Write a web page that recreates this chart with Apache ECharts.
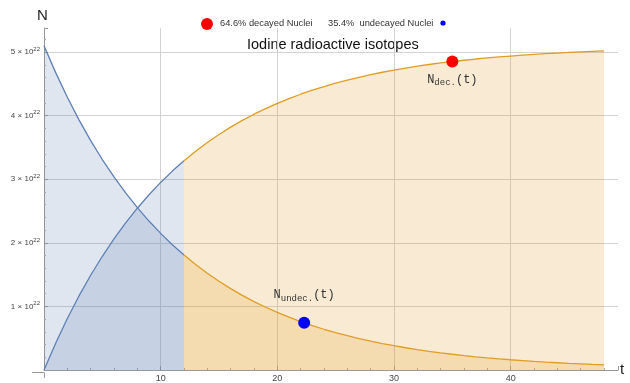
<!DOCTYPE html>
<html>
<head>
<meta charset="utf-8">
<script src="https://cdn.jsdelivr.net/npm/echarts@6/dist/echarts.min.js"></script>
<style>html,body{margin:0;padding:0;background:#fff}#c{width:630px;height:383px}</style>
</head>
<body>
<div id="c"></div>
<script>
// time in days, N in units of 10^22 nuclei
const tValues = [0,1,2,3,4,5,6,7,8,9,10,11,12,13,14,15,16,17,18,19,20,21,22,23,24,25,26,27,28,29,30,31,32,33,34,35,36,37,38,39,40,41,42,43,44,45,46,47,48];
const undecayed = [5.100,4.678,4.290,3.935,3.609,3.311,3.037,2.785,2.555,2.343,2.149,1.971,1.808,1.658,1.521,1.395,1.280,1.174,1.076,0.987,0.906,0.831,0.762,0.699,0.641,0.588,0.539,0.495,0.454,0.416,0.382,0.350,0.321,0.294,0.270,0.248,0.227,0.208,0.191,0.175,0.161,0.148,0.135,0.124,0.114,0.104,0.096,0.088,0.081];
const decayed = [0.000,0.422,0.810,1.165,1.491,1.789,2.063,2.315,2.545,2.757,2.951,3.129,3.292,3.442,3.579,3.705,3.820,3.926,4.024,4.113,4.194,4.269,4.338,4.401,4.459,4.512,4.561,4.605,4.646,4.684,4.718,4.750,4.779,4.806,4.830,4.852,4.873,4.892,4.909,4.925,4.939,4.952,4.965,4.976,4.986,4.996,5.004,5.012,5.019];
const splitT = 12;
const decayedMarker = [35, 4.852];
const undecayedMarker = [22.3, 0.743];
const decayedPct = '64.6%';
const undecayedPct = '35.4%';
const xTickLabels = [10, 20, 30, 40];
const yTickLabels = [1, 2, 3, 4, 5];

const BLUE = '#5E81B5', ORANGE = '#E19C24';
function pairs(vals, from, to) {
  const out = [];
  for (let i = 0; i < tValues.length; i++) {
    if (tValues[i] >= from && tValues[i] <= to) out.push([tValues[i], vals[i]]);
  }
  return out;
}
function lineSeries(vals, from, to, color) {
  return {
    type: 'line', data: pairs(vals, from, to), showSymbol: false, symbol: 'none',
    smooth: false,
    lineStyle: { color: color, width: 1.3 },
    areaStyle: { color: color, opacity: 0.2, origin: 'start' },
    z: 2, silent: true
  };
}
const mono = '"Liberation Mono","DejaVu Sans Mono",monospace';
const richLabel = {
  n: { fontFamily: mono, fontSize: 12, color: '#333' },
  s: { fontFamily: mono, fontSize: 9, color: '#333', padding: [7, 0, 0, 0] }
};

const chart = echarts.init(document.getElementById('c'));
chart.setOption({
  animation: false,
  grid: { left: 44, right: 12, top: 28, bottom: 10.5, containLabel: false },
  xAxis: {
    type: 'value', min: 0, max: 49.2, interval: 10,
    axisLine: { show: true, lineStyle: { color: '#999', width: 1 } },
    axisTick: { show: true, inside: true, length: 4, lineStyle: { color: '#999' } },
    minorTick: { show: true, splitNumber: 5, length: 2, lineStyle: { color: '#aaa' } },
    axisLabel: {
      fontSize: 9, color: '#444', margin: 4, fontFamily: 'Liberation Sans',
      formatter: v => xTickLabels.indexOf(v) >= 0 ? String(v) : ''
    },
    splitLine: { show: true, showMinLine: false, showMaxLine: false, lineStyle: { color: '#d2d2d2' } }
  },
  yAxis: {
    type: 'value', min: 0, max: 5.38, interval: 1,
    axisLine: { show: true, onZero: false, lineStyle: { color: '#999', width: 1 } },
    axisTick: { show: true, inside: true, length: 4, lineStyle: { color: '#999' } },
    minorTick: { show: true, splitNumber: 5, length: 2, lineStyle: { color: '#aaa' } },
    axisLabel: {
      fontSize: 8, color: '#444', margin: 4, fontFamily: 'Liberation Sans',
      formatter: v => yTickLabels.indexOf(v) >= 0 ? v + ' \u00d7 10{sup|22}' : '',
      rich: { sup: { fontSize: 6, color: '#444', padding: [0, 0, 6, 0] } }
    },
    splitLine: { show: true, showMinLine: false, showMaxLine: false, lineStyle: { color: '#d2d2d2' } }
  },
  series: [
    lineSeries(undecayed, 0, splitT, BLUE),
    lineSeries(decayed, 0, splitT, BLUE),
    lineSeries(undecayed, splitT, 48, ORANGE),
    lineSeries(decayed, splitT, 48, ORANGE),
    {
      type: 'scatter', data: [decayedMarker], symbolSize: 12, z: 5,
      itemStyle: { color: '#ff0000', opacity: 1 },
      label: { show: true, position: 'bottom', distance: 4,
        formatter: '{n|N}{s|dec.}{n|(t)}', rich: richLabel }
    },
    {
      type: 'scatter', data: [undecayedMarker], symbolSize: 12, z: 5,
      itemStyle: { color: '#0000ff', opacity: 1 },
      label: { show: true, position: 'top', distance: 14,
        formatter: '{n|N}{s|undec.}{n|(t)}', rich: richLabel }
    }
  ],
  graphic: [
    { type: 'line', shape: { x1: 32, y1: 372.5, x2: 44, y2: 372.5 }, style: { stroke: '#999', lineWidth: 1 } },
    { type: 'line', shape: { x1: 44.5, y1: 372.5, x2: 44.5, y2: 378 }, style: { stroke: '#999', lineWidth: 1 } },
    { type: 'text', left: 37, top: 8, style: { text: 'N', fontSize: 15, fill: '#222', fontFamily: 'Liberation Sans' } },
    { type: 'text', left: 620, top: 362, style: { text: 't', fontSize: 15, fill: '#222', fontFamily: 'Liberation Sans' } },
    { type: 'circle', shape: { cx: 207, cy: 24, r: 6 }, style: { fill: '#ff0000' } },
    { type: 'text', left: 220, top: 19, style: { text: decayedPct + ' decayed Nuclei', fontSize: 9.3, fill: '#333', fontFamily: 'Liberation Sans' } },
    { type: 'text', left: 328, top: 19, style: { text: undecayedPct + '  undecayed Nuclei', fontSize: 9.3, fill: '#333', fontFamily: 'Liberation Sans' } },
    { type: 'circle', shape: { cx: 443, cy: 23, r: 2.6 }, style: { fill: '#0000ff' } },
    { type: 'text', left: 247, top: 37, style: { text: 'Iodine radioactive isotopes', fontSize: 14.5, fill: '#111', fontFamily: 'Liberation Sans' } }
  ]
});
</script>
</body>
</html>
